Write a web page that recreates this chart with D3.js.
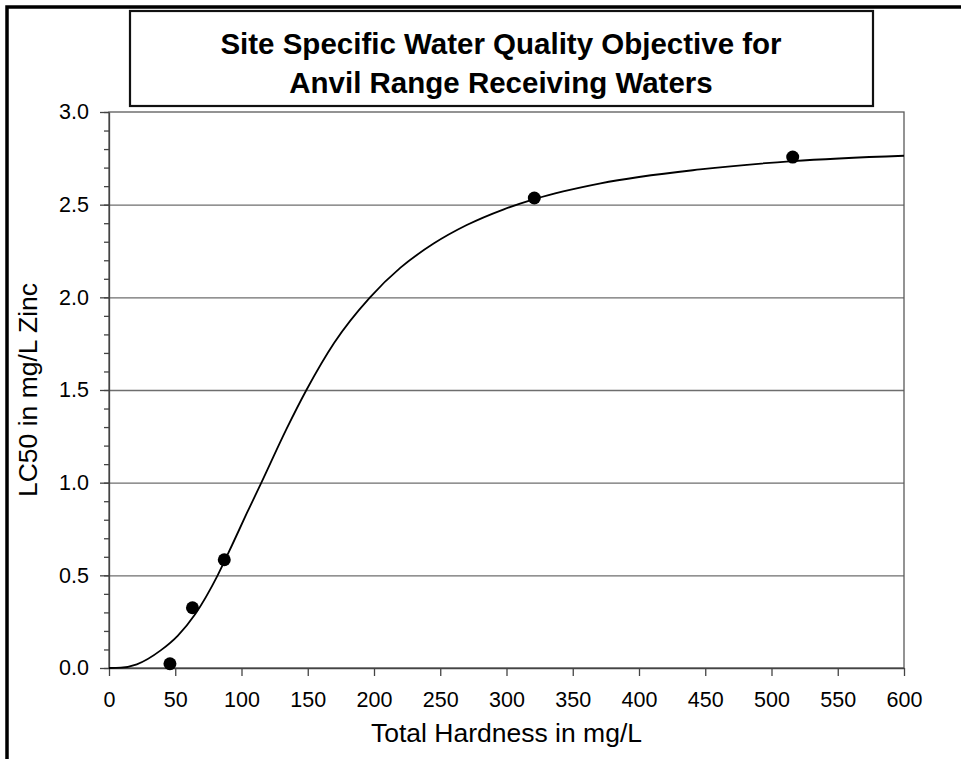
<!DOCTYPE html>
<html>
<head>
<meta charset="utf-8">
<script src="https://cdn.jsdelivr.net/npm/d3@7"></script>
<style>
  body { margin: 0; background: #fff; }
  text { font-family: "Liberation Sans", Arial, sans-serif; fill: #000; }
</style>
</head>
<body>
<svg id="chart" width="961" height="759"></svg>
<script>
// measured points (hardness mg/L, LC50 mg/L Zn)
var hardness = [46, 63, 87, 321, 516];
var lc50 = [0.023, 0.325, 0.584, 2.536, 2.757];

// fitted curve
var curveHardness = [0, 9, 21, 39, 52, 65, 82, 93, 104, 115, 134, 149, 170, 197, 220, 245, 270, 298, 321, 371, 446, 516, 600];
var curveLC50 = [0, 0.002, 0.02, 0.095, 0.175, 0.29, 0.5, 0.665, 0.835, 1.0, 1.29, 1.5, 1.755, 2.0, 2.16, 2.29, 2.39, 2.475, 2.53, 2.615, 2.69, 2.735, 2.764];

var xTicks = [0, 50, 100, 150, 200, 250, 300, 350, 400, 450, 500, 550, 600];
var yTicks = [0.0, 0.5, 1.0, 1.5, 2.0, 2.5, 3.0];
var yMinor = d3.range(0, 31).map(function(d){ return d / 10; });
var gridVals = [0.5, 1.0, 1.5, 2.0, 2.5];

var titleLines = ["Site Specific Water Quality Objective for", "Anvil Range Receiving Waters"];

var svg = d3.select("#chart");
var m = {left: 109, top: 112, right: 904, bottom: 668};
var w = m.right - m.left, h = m.bottom - m.top;

var x = d3.scaleLinear().domain([0, 600]).range([0, w]);
var y = d3.scaleLinear().domain([0, 3]).range([h, 0]);

// outer border (only top and left show in the frame)
svg.append("rect").attr("x", 7).attr("y", 7).attr("width", 1000).attr("height", 800)
   .attr("fill", "none").attr("stroke", "#000").attr("stroke-width", 3.5);

var g = svg.append("g").attr("transform", "translate(" + m.left + "," + m.top + ")");

// grid
var grid = g.append("g").call(d3.axisLeft(y).tickValues(gridVals).tickSize(-w).tickFormat(""));
grid.select(".domain").remove();
grid.selectAll("line").attr("stroke", "#6e6e6e").attr("stroke-width", 1.3);

// plot frame
g.append("rect").attr("width", w).attr("height", h)
 .attr("fill", "none").attr("stroke", "#5a5a5a").attr("stroke-width", 1.3);

// y minor ticks
var yMin = g.append("g").call(d3.axisLeft(y).tickValues(yMinor).tickSize(5).tickSizeOuter(0).tickFormat(""));
yMin.select(".domain").remove();
yMin.selectAll("line").attr("stroke", "#444").attr("stroke-width", 1.3);

// y major ticks + labels
var yAx = g.append("g").call(d3.axisLeft(y).tickValues(yTicks).tickSize(9).tickSizeOuter(0).tickPadding(11).tickFormat(d3.format(".1f")));
yAx.select(".domain").attr("stroke", "#444").attr("stroke-width", 1.3);
yAx.selectAll("line").attr("stroke", "#444").attr("stroke-width", 1.3);
yAx.selectAll("text").attr("font-size", 21.5).attr("font-family", "Liberation Sans, Arial, sans-serif").attr("fill", "#000");

// x ticks + labels
var xAx = g.append("g").attr("transform", "translate(0," + h + ")")
  .call(d3.axisBottom(x).tickValues(xTicks).tickSize(8).tickSizeOuter(0));
xAx.select(".domain").attr("stroke", "#444").attr("stroke-width", 1.3);
xAx.selectAll("line").attr("stroke", "#444").attr("stroke-width", 1.3);
xAx.selectAll("text").attr("font-size", 21.5).attr("font-family", "Liberation Sans, Arial, sans-serif")
   .attr("fill", "#000").attr("dy", null).attr("y", 39);

// fitted curve
var pts = curveHardness.map(function(d, i){ return [d, curveLC50[i]]; });
var line = d3.line().x(function(d){ return x(d[0]); }).y(function(d){ return y(d[1]); }).curve(d3.curveMonotoneX);
g.append("path").datum(pts).attr("d", line)
 .attr("fill", "none").attr("stroke", "#000").attr("stroke-width", 1.8);

// observed points
g.selectAll(".pt").data(hardness).enter().append("circle").attr("class", "pt")
 .attr("cx", function(d){ return x(d); })
 .attr("cy", function(d, i){ return y(lc50[i]); })
 .attr("r", 6.5).attr("fill", "#000");

// axis titles
svg.append("text").attr("x", m.left + w / 2).attr("y", 742).attr("text-anchor", "middle")
   .attr("font-size", 26.5).text("Total Hardness in mg/L");
svg.append("text").attr("transform", "translate(37," + (m.top + h / 2) + ") rotate(-90)")
   .attr("text-anchor", "middle").attr("font-size", 26.5).text("LC50 in mg/L Zinc");

// title box
svg.append("rect").attr("x", 130).attr("y", 11).attr("width", 743).attr("height", 95)
   .attr("fill", "#fff").attr("stroke", "#111").attr("stroke-width", 2.2);
svg.selectAll(".title").data(titleLines).enter().append("text").attr("class", "title")
   .attr("x", 501).attr("y", function(d, i){ return 54 + i * 39; })
   .attr("text-anchor", "middle").attr("font-size", 29.5).attr("font-weight", "bold")
   .text(function(d){ return d; });
</script>
</body>
</html>
